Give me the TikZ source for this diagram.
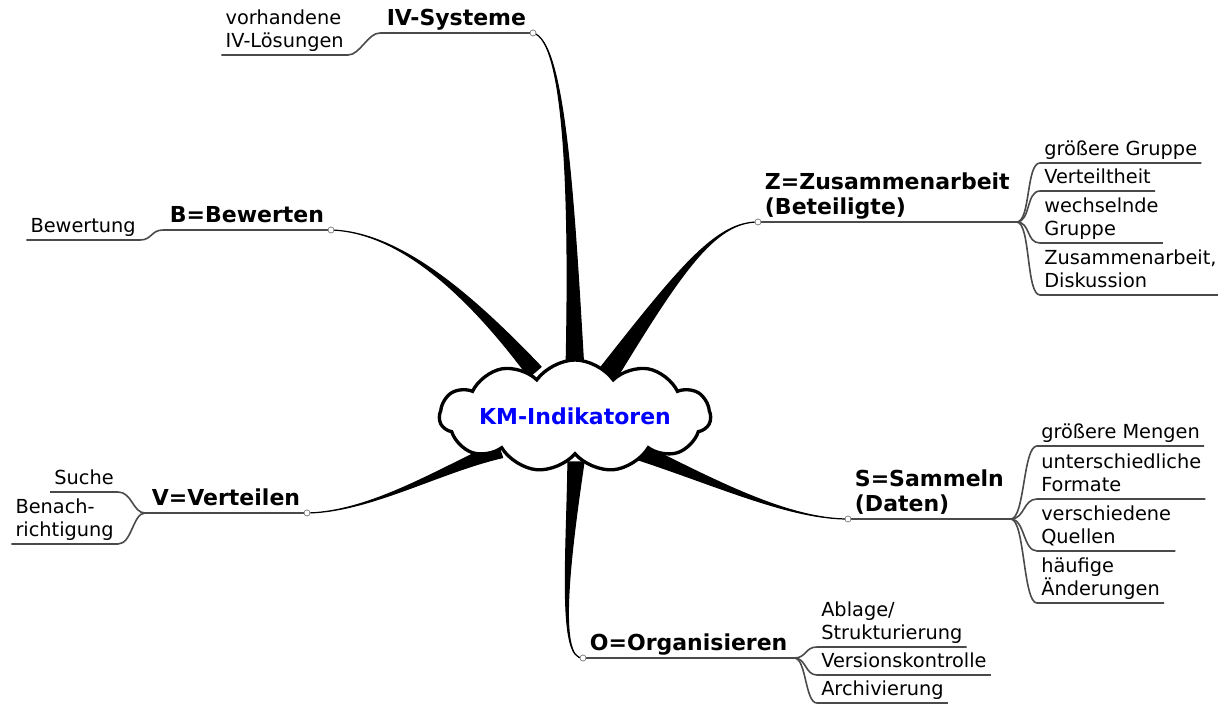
\documentclass[tikz,border=0pt]{standalone}
\usepackage{fontspec}
\setmainfont{DejaVu Sans}
\usetikzlibrary{positioning, shapes.symbols, calc, backgrounds}

\definecolor{linegray}{HTML}{4A4A4A}

\begin{document}
\begin{tikzpicture}[
    x=0.75pt, y=-0.75pt,
    topic/.style={inner xsep=5pt, inner ysep=0pt, align=left, font=\fontsize{16.5pt}{18.5pt}\selectfont\bfseries},
    leaf/.style={inner xsep=3pt, inner ysep=0pt, align=left, font=\fontsize{14.5pt}{17.5pt}\selectfont},
    twig/.style={draw=linegray, line width=1.2pt},
    knot/.style={circle, draw=black!55, fill=white, line width=0.5pt, inner sep=0pt, minimum size=4.5pt},
    spike/.style={fill=black, draw=black, line width=0.9pt, line join=round}
]
\useasboundingbox (0,0) rectangle (1218,706);

% Center
\node[cloud, cloud puffs=11, cloud puff arc=110, aspect=3.6, draw, line width=2.5pt, fill=white, minimum width=166pt, minimum height=50pt, inner sep=0pt, text=blue, font=\fontsize{16.5pt}{18.5pt}\selectfont\bfseries] (km) at (575,416) {KM-Indikatoren};

% Topics (left side)
\node[topic, anchor=south east] (iv) at (533,33) {IV-Systeme\strut};
\node[topic, anchor=south east] (bw) at (331,230) {B=Bewerten\strut};
\node[topic, anchor=south east] (vt) at (307,513) {V=Verteilen\strut};

% Topics (right side)
\node[topic, anchor=south west] (zs) at (758,222) {Z=Zusammenarbeit\\(Beteiligte)\strut};
\node[topic, anchor=south west] (sm) at (848,519) {S=Sammeln\\(Daten)\strut};
\node[topic, anchor=south west] (og) at (583,658) {O=Organisieren\strut};

% Leaves of IV, B, V
\node[leaf, anchor=south east] (iv1) at (348,55) {vorhandene\\IV-Lösungen\strut};
\node[leaf, anchor=south east] (bw1) at (140,240) {Bewertung\strut};
\node[leaf, anchor=south east] (vt1) at (118,492) {Suche\strut};
\node[leaf, anchor=south east] (vt2) at (118,544) {Benach-\\richtigung\strut};

% Leaves of Z
\node[leaf, anchor=south west] (zs1) at (1040,163) {größere Gruppe\strut};
\node[leaf, anchor=south west] (zs2) at (1040,191) {Verteiltheit\strut};
\node[leaf, anchor=south west] (zs3) at (1040,243) {wechselnde\\Gruppe\strut};
\node[leaf, anchor=south west] (zs4) at (1040,295) {Zusammenarbeit,\\Diskussion\strut};

% Leaves of S
\node[leaf, anchor=south west] (sm1) at (1037,446) {größere Mengen\strut};
\node[leaf, anchor=south west] (sm2) at (1037,499) {unterschiedliche\\Formate\strut};
\node[leaf, anchor=south west] (sm3) at (1037,551) {verschiedene\\Quellen\strut};
\node[leaf, anchor=south west] (sm4) at (1037,603) {häufige\\Änderungen\strut};

% Leaves of O
\node[leaf, anchor=south west] (og1) at (817,647) {Ablage/\\Strukturierung\strut};
\node[leaf, anchor=south west] (og2) at (817,675) {Versionskontrolle\strut};
\node[leaf, anchor=south west] (og3) at (817,703) {Archivierung\strut};

% Underlines of topics
\draw[twig] (iv.south east) -- (iv.south west);
\draw[twig] (bw.south east) -- (bw.south west);
\draw[twig] (vt.south east) -- (vt.south west);
\draw[twig] (zs.south west) -- (zs.south east);
\draw[twig] (sm.south west) -- (sm.south east);
\draw[twig] (og.south west) -- (og.south east);

% Twigs to leaves
\draw[twig] (iv.south west) .. controls +(-12,0) and +(12,0) .. (iv1.south east) -- (iv1.south west);
\draw[twig] (bw.south west) .. controls +(-12,0) and +(12,0) .. (bw1.south east) -- (bw1.south west);
\draw[twig] (vt.south west) .. controls +(-12,0) and +(14,0) .. (vt1.south east) -- (vt1.south west);
\draw[twig] (vt.south west) .. controls +(-12,0) and +(14,0) .. (vt2.south east) -- (vt2.south west);
\draw[twig] (zs.south east) .. controls +(14,0) and +(-14,0) .. (zs1.south west) -- (zs1.south east);
\draw[twig] (zs.south east) .. controls +(14,0) and +(-14,0) .. (zs2.south west) -- (zs2.south east);
\draw[twig] (zs.south east) .. controls +(14,0) and +(-14,0) .. (zs3.south west) -- (zs3.south east);
\draw[twig] (zs.south east) .. controls +(14,0) and +(-14,0) .. (zs4.south west) -- (zs4.south east);
\draw[twig] (sm.south east) .. controls +(14,0) and +(-14,0) .. (sm1.south west) -- (sm1.south east);
\draw[twig] (sm.south east) .. controls +(14,0) and +(-14,0) .. (sm2.south west) -- (sm2.south east);
\draw[twig] (sm.south east) .. controls +(14,0) and +(-14,0) .. (sm3.south west) -- (sm3.south east);
\draw[twig] (sm.south east) .. controls +(14,0) and +(-14,0) .. (sm4.south west) -- (sm4.south east);
\draw[twig] (og.south east) .. controls +(12,0) and +(-12,0) .. (og1.south west) -- (og1.south east);
\draw[twig] (og.south east) .. controls +(12,0) and +(-12,0) .. (og2.south west) -- (og2.south east);
\draw[twig] (og.south east) .. controls +(12,0) and +(-12,0) .. (og3.south west) -- (og3.south east);

% Knots
\node[knot] (ivk) at (iv.south east) {};
\node[knot] (bwk) at (bw.south east) {};
\node[knot] (vtk) at (vt.south east) {};
\node[knot] (zsk) at (zs.south west) {};
\node[knot] (smk) at (sm.south west) {};
\node[knot] (ogk) at (og.south west) {};

% Spikes from the cloud
\begin{scope}[on background layer]
\path[spike] ($(km)+(-9,-44)$) .. controls (570,200) and (565,40) .. (ivk.center)
    .. controls (565,40) and (574,200) .. ($(km)+(9,-44)$) -- cycle;
\path[spike] ($(km)+(21.8,-43.7)$) .. controls (678.4,268.9) and (715,222) .. (zsk.center)
    .. controls (715,222) and (681.6,271.1) .. ($(km)+(38.2,-32.3)$) -- cycle;
\path[spike] ($(km)+(-46.1,-38.8)$) .. controls (468.7,296.1) and (400,232) .. (bwk.center)
    .. controls (400,232) and (471.3,293.9) .. ($(km)+(-33.9,-49.2)$) -- cycle;
\path[spike] ($(km)+(-77.6,26.4)$) .. controls (439.5,468.4) and (370,512) .. (vtk.center)
    .. controls (370,512) and (440.5,471.6) .. ($(km)+(-72.4,41.6)$) -- cycle;
\path[spike] ($(km)+(68,28.6)$) .. controls (720.6,483.5) and (790,519) .. (smk.center)
    .. controls (790,519) and (719.4,486.5) .. ($(km)+(62,43.4)$) -- cycle;
\path[spike] ($(km)+(-7,46)$) .. controls (566.5,560) and (558,660) .. (ogk.center)
    .. controls (558,660) and (569.5,560) .. ($(km)+(9,46)$) -- cycle;
\end{scope}

\end{tikzpicture}
\end{document}
